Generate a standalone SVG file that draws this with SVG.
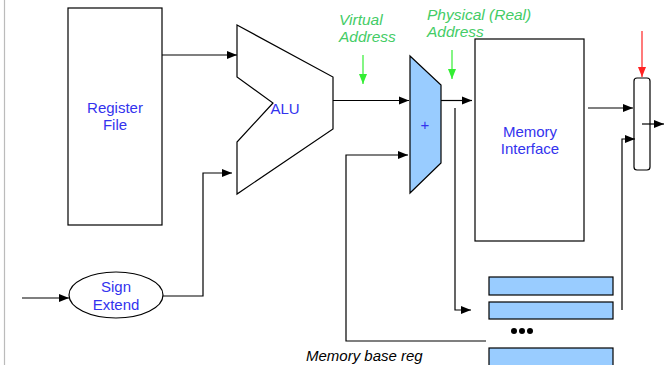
<svg xmlns="http://www.w3.org/2000/svg" width="664" height="365" viewBox="0 0 664 365">
<defs>
<marker id="ah" viewBox="0 0 10 10" refX="10" refY="5" markerWidth="10" markerHeight="10" markerUnits="userSpaceOnUse" orient="auto"><path d="M0,1 L10,5 L0,9 z" fill="#000"/></marker>
<marker id="ahg" viewBox="0 0 10 10" refX="10" refY="5" markerWidth="10" markerHeight="10" markerUnits="userSpaceOnUse" orient="auto"><path d="M0,1 L10,5 L0,9 z" fill="#33ee33"/></marker>
<marker id="ahr" viewBox="0 0 10 10" refX="10" refY="5" markerWidth="10" markerHeight="10" markerUnits="userSpaceOnUse" orient="auto"><path d="M0,1 L10,5 L0,9 z" fill="#ff2222"/></marker>
<style>
.box{fill:#fff;stroke:#000;stroke-width:1.2}
.blue{fill:#99ccff;stroke:#000;stroke-width:1.2}
.lbl{font-family:"Liberation Sans",Arial,sans-serif;font-size:15px;fill:#3333ee;text-anchor:middle}
.grn{font-family:"Liberation Sans",Arial,sans-serif;font-size:15.5px;font-style:italic;fill:#44cc66}
.ital{font-family:"Liberation Sans",Arial,sans-serif;font-size:15px;font-style:italic;fill:#000}
.w{fill:none;stroke:#000;stroke-width:1.2}
</style>
</defs>
<rect width="664" height="365" fill="#fff"/>
<line x1="4.5" y1="0" x2="4.5" y2="365" stroke="#bbb" stroke-width="1.2"/>

<g id="register-file">
<rect class="box" x="68" y="8" width="94" height="217"/>
<text class="lbl" x="115" y="113">Register</text>
<text class="lbl" x="115" y="130">File</text>
</g>

<g id="alu">
<path class="box" d="M237,25 L333,77 L333,129 L237,194 L237,142 L273,103 L237,77 Z"/>
<text class="lbl" x="285" y="114">ALU</text>
</g>

<g id="sign-extend">
<ellipse class="box" cx="116" cy="295" rx="47" ry="23"/>
<text class="lbl" x="116" y="292">Sign</text>
<text class="lbl" x="116" y="310">Extend</text>
</g>

<g id="adder">
<path class="blue" d="M410,56 L441,85 L441,163 L410,193 Z"/>
<text class="lbl" x="425" y="130">+</text>
</g>

<g id="memory-interface">
<rect class="box" x="475" y="39" width="109" height="202"/>
<text class="lbl" x="530" y="137">Memory</text>
<text class="lbl" x="530" y="154">Interface</text>
</g>

<g id="mux">
<rect class="box" x="634" y="78" width="16" height="92" rx="3"/>
</g>

<g id="memory-regs">
<rect class="blue" x="489" y="277" width="124" height="18"/>
<rect class="blue" x="489" y="302" width="124" height="17"/>
<rect class="blue" x="489" y="348" width="124" height="20"/>
<circle cx="514" cy="331" r="3" fill="#000"/>
<circle cx="522" cy="331" r="3" fill="#000"/>
<circle cx="530" cy="331" r="3" fill="#000"/>
</g>

<g id="labels">
<text class="grn" x="339" y="25">Virtual</text>
<text class="grn" x="339" y="42">Address</text>
<text class="grn" x="427" y="20">Physical (Real)</text>
<text class="grn" x="427" y="37">Address</text>
<text class="ital" x="306" y="361">Memory base reg</text>
</g>

<g id="connectors">
<path class="w" d="M162,55 L237,55" marker-end="url(#ah)"/>
<path class="w" d="M22,298 L69,298" marker-end="url(#ah)"/>
<path class="w" d="M163,296 L203,296 L203,173 L232,173" marker-end="url(#ah)"/>
<path class="w" d="M333,100.5 L409,100.5" marker-end="url(#ah)"/>
<path class="w" d="M486,341 L346,341 L346,155 L408,155" marker-end="url(#ah)"/>
<path class="w" d="M441,100.5 L472,100.5" marker-end="url(#ah)"/>
<path class="w" d="M455,108 L455,310 L471,310" marker-end="url(#ah)"/>
<path class="w" d="M588,108 L633,108" marker-end="url(#ah)"/>
<path class="w" d="M622,310 L622,139 L635,139" marker-end="url(#ah)"/>
<path class="w" d="M642,124 L664,124" marker-end="url(#ah)"/>
<path d="M363,55 L363,84" stroke="#33ee33" stroke-width="1.2" fill="none" marker-end="url(#ahg)"/>
<path d="M452,50 L452,79" stroke="#33ee33" stroke-width="1.2" fill="none" marker-end="url(#ahg)"/>
<path d="M642,31 L642,77" stroke="#ff2222" stroke-width="1.2" fill="none" marker-end="url(#ahr)"/>
</g>
</svg>
